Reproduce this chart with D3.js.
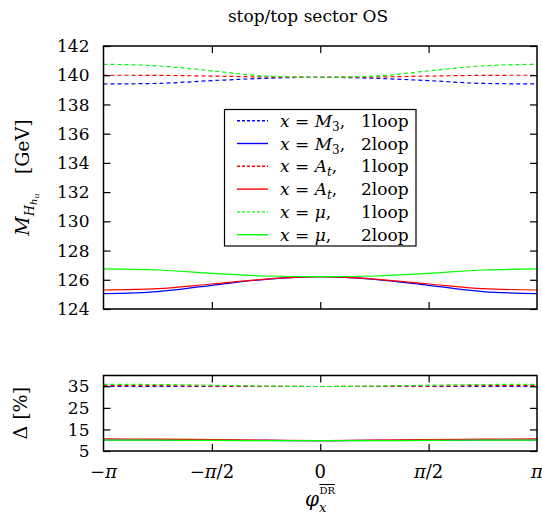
<!DOCTYPE html>
<html>
<head>
<meta charset="utf-8">
<script src="https://cdn.jsdelivr.net/npm/d3@7"></script>
<style>
body { margin: 0; background: #fff; }
svg text { font-family: "DejaVu Serif", "Liberation Serif", serif; fill: #000; }
</style>
</head>
<body>
<div id="chart"></div>
<script>
// phase of the parameter x, in radians
const phi = [-Math.PI, -3 * Math.PI / 4, -Math.PI / 2, -Math.PI / 4, 0, Math.PI / 4, Math.PI / 2, 3 * Math.PI / 4, Math.PI];
const phiTicks = [-Math.PI, -Math.PI / 2, 0, Math.PI / 2, Math.PI];
const phiTickLabels = ["−π", "−π/2", "0", "π/2", "π"];

// M_H (GeV)
const massM3_1loop = [139.40, 139.44, 139.63, 139.79, 139.86, 139.79, 139.63, 139.44, 139.40];
const massM3_2loop = [125.05, 125.19, 125.62, 126.03, 126.21, 126.03, 125.62, 125.19, 125.05];
const massAt_1loop = [140.00, 139.99, 139.94, 139.88, 139.86, 139.88, 139.94, 139.99, 140.00];
const massAt_2loop = [125.30, 125.39, 125.71, 126.05, 126.21, 126.05, 125.71, 125.39, 125.30];
const massMu_1loop = [140.75, 140.64, 140.30, 139.94, 139.86, 139.94, 140.30, 140.64, 140.75];
const massMu_2loop = [126.74, 126.67, 126.44, 126.26, 126.21, 126.26, 126.44, 126.67, 126.74];

// Delta (%)
const deltaM3_1loop = [34.9, 34.9, 34.9, 34.9, 34.9, 34.9, 34.9, 34.9, 34.9];
const deltaM3_2loop = [10.1, 10.1, 10.0, 9.9, 9.8, 9.9, 10.0, 10.1, 10.1];
const deltaAt_1loop = [35.3, 35.3, 35.1, 35.0, 34.9, 35.0, 35.1, 35.3, 35.3];
const deltaAt_2loop = [10.6, 10.5, 10.3, 10.0, 9.8, 10.0, 10.3, 10.5, 10.6];
const deltaMu_1loop = [35.9, 35.8, 35.5, 35.1, 34.9, 35.1, 35.5, 35.8, 35.9];
const deltaMu_2loop = [10.0, 10.0, 9.9, 9.8, 9.8, 9.8, 9.9, 10.0, 10.0];

const massTicks = [124, 126, 128, 130, 132, 134, 136, 138, 140, 142];
const deltaTicks = [5, 15, 25, 35];

const seriesNames = ["M3", "M3", "At", "At", "mu", "mu"];
const loopNames = ["1loop", "2loop", "1loop", "2loop", "1loop", "2loop"];
const seriesColors = ["#0000ff", "#0000ff", "#ff0000", "#ff0000", "#00ff00", "#00ff00"];
const massSeries = [massM3_1loop, massM3_2loop, massAt_1loop, massAt_2loop, massMu_1loop, massMu_2loop];
const deltaSeries = [deltaM3_1loop, deltaM3_2loop, deltaAt_1loop, deltaAt_2loop, deltaMu_1loop, deltaMu_2loop];

let dimensions = {
    width: 542,
    height: 515,
    left: 103.5,
    right: 537,
    top: { y0: 46, y1: 309 },
    bottom: { y0: 375.5, y1: 451 },
};

const svg = d3.select("#chart")
    .append("svg")
    .attr("width", dimensions.width)
    .attr("height", dimensions.height);

const x = d3.scaleLinear()
    .domain([-Math.PI, Math.PI])
    .range([dimensions.left, dimensions.right]);

const yTop = d3.scaleLinear()
    .domain([124, 142])
    .range([dimensions.top.y1, dimensions.top.y0]);

const yBot = d3.scaleLinear()
    .domain([5, 40])
    .range([dimensions.bottom.y1, dimensions.bottom.y0]);

const tickLen = 7;

function drawPanel(y, ticks, series, showXLabels) {
    const g = svg.append("g");
    const [ya, yb] = y.range();
    // curves
    series.forEach((vals, i) => {
        const line = d3.line()
            .x((d, j) => x(phi[j]))
            .y(d => y(d))
            .curve(d3.curveMonotoneX);
        g.append("path")
            .datum(vals)
            .attr("d", line)
            .attr("fill", "none")
            .attr("stroke", seriesColors[i])
            .attr("stroke-width", 1.2)
            .attr("stroke-dasharray", i % 2 === 0 ? "4,3" : null);
    });
    // axes (gnuplot style: ticks inward on all four sides)
    g.append("g")
        .attr("transform", `translate(${dimensions.left},0)`)
        .call(d3.axisRight(y).tickValues(ticks).tickSize(tickLen).tickFormat(""))
        .call(a => a.select(".domain").remove());
    g.append("g")
        .attr("transform", `translate(${dimensions.right},0)`)
        .call(d3.axisLeft(y).tickValues(ticks).tickSize(tickLen).tickFormat(""))
        .call(a => a.select(".domain").remove());
    g.append("g")
        .attr("transform", `translate(0,${ya})`)
        .call(d3.axisTop(x).tickValues(phiTicks.slice(1, -1)).tickSize(tickLen).tickFormat(""))
        .call(a => a.select(".domain").remove());
    g.append("g")
        .attr("transform", `translate(0,${yb})`)
        .call(d3.axisBottom(x).tickValues(phiTicks.slice(1, -1)).tickSize(tickLen).tickFormat(""))
        .call(a => a.select(".domain").remove());
    g.selectAll(".tick line").attr("stroke", "#000").attr("stroke-width", 1.2);

    // y tick labels
    g.selectAll(".ylab")
        .data(ticks)
        .join("text")
        .attr("x", dimensions.left - 14)
        .attr("y", d => y(d))
        .attr("dy", "0.36em")
        .attr("text-anchor", "end")
        .style("font-size", "17px")
        .text(d => d);

    if (showXLabels) {
        const xl = g.selectAll(".xlab")
            .data(phiTicks)
            .join("text")
            .attr("x", d => x(d))
            .attr("y", ya + 27)
            .attr("text-anchor", "middle")
            .style("font-size", "18px");
        xl.each(function (d, i) {
            const t = d3.select(this);
            phiTickLabels[i].split(/(π)/).filter(s => s).forEach(s => {
                t.append("tspan").style("font-style", s === "π" ? "italic" : null).text(s);
            });
        });
    }

    // frame
    g.append("rect")
        .attr("x", dimensions.left)
        .attr("y", yb)
        .attr("width", dimensions.right - dimensions.left)
        .attr("height", ya - yb)
        .attr("fill", "none")
        .attr("stroke", "#000")
        .attr("stroke-width", 1.5);
    return g;
}

drawPanel(yTop, massTicks, massSeries, false);
drawPanel(yBot, deltaTicks, deltaSeries, true);

// title
svg.append("text")
    .attr("x", 308)
    .attr("y", 22)
    .attr("text-anchor", "middle")
    .style("font-size", "17px")
    .text("stop/top sector OS");

// y label, top
const yl = svg.append("text")
    .attr("transform", `translate(29,${(dimensions.top.y0 + dimensions.top.y1) / 2}) rotate(-90)`)
    .attr("text-anchor", "middle")
    .style("font-size", "19px");
yl.append("tspan").style("font-style", "italic").text("M");
yl.append("tspan").style("font-style", "italic").style("font-size", "13px").attr("dy", 5).text("H");
yl.append("tspan").style("font-style", "italic").style("font-size", "10px").attr("dy", 3).text("h");
yl.append("tspan").style("font-style", "italic").style("font-size", "8px").attr("dy", 2).text("u");
yl.append("tspan").attr("dy", -10).text("\u2002\u2002[GeV]");

// y label, bottom
svg.append("text")
    .attr("transform", `translate(27,${(dimensions.bottom.y0 + dimensions.bottom.y1) / 2}) rotate(-90)`)
    .attr("text-anchor", "middle")
    .style("font-size", "19px")
    .text("Δ  [%]");

// x label
const xlab = svg.append("text")
    .attr("x", 320)
    .attr("y", 506)
    .attr("text-anchor", "middle")
    .style("font-size", "20px");
xlab.append("tspan").style("font-style", "italic").text("φ");
xlab.append("tspan").style("font-style", "italic").style("font-size", "13px").attr("dy", 6).text("x");
xlab.append("tspan").style("font-size", "10px").style("text-decoration", "overline").attr("dx", -7).attr("dy", -18).text("DR");

// legend
const legend = svg.append("g");
legend.append("rect")
    .attr("x", 224.5)
    .attr("y", 109.5)
    .attr("width", 191.5)
    .attr("height", 136.5)
    .attr("fill", "#fff")
    .attr("stroke", "#000")
    .attr("stroke-width", 1.2);

const rowY = d3.scalePoint().domain(d3.range(6)).range([120.7, 234.7]);
const symbolFor = { M3: ["M", "3"], At: ["A", "t"], mu: ["μ", ""] };

seriesNames.forEach((name, i) => {
    const yy = rowY(i);
    legend.append("line")
        .attr("x1", 237).attr("x2", 268)
        .attr("y1", yy).attr("y2", yy)
        .attr("stroke", seriesColors[i])
        .attr("stroke-width", 1.4)
        .attr("stroke-dasharray", i % 2 === 0 ? "3,2" : null);
    const t = legend.append("text")
        .attr("x", 280)
        .attr("y", yy + 6)
        .style("font-size", "17px");
    t.append("tspan").style("font-style", "italic").text("x");
    t.append("tspan").text(" = ");
    t.append("tspan").style("font-style", "italic").text(symbolFor[name][0]);
    if (symbolFor[name][1]) {
        t.append("tspan").style("font-size", "12px").style("font-style", name === "At" ? "italic" : null).attr("dy", 4).text(symbolFor[name][1]);
        t.append("tspan").attr("dy", -4).text(",");
    } else {
        t.append("tspan").text(",");
    }
    legend.append("text")
        .attr("x", 361)
        .attr("y", yy + 6)
        .style("font-size", "17px")
        .text(loopNames[i]);
});
</script>
</body>
</html>
